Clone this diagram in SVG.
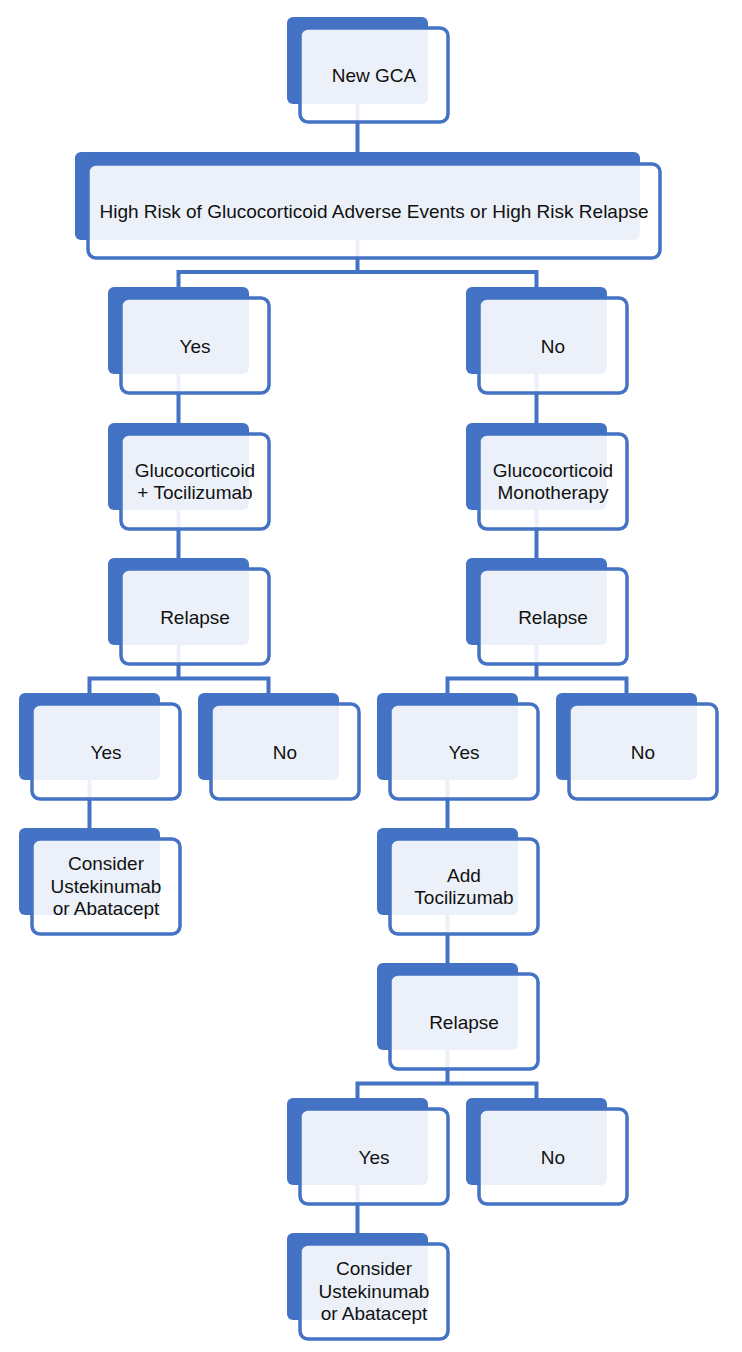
<svg xmlns="http://www.w3.org/2000/svg" width="742" height="1352" viewBox="0 0 742 1352">
<style>
.bk{fill:#4472C4}
.fr{fill:#ffffff;fill-opacity:0.9;stroke:#4472C4;stroke-width:3.5}
.cn{fill:none;stroke:#4472C4;stroke-width:4}
text{font-family:"Liberation Sans",Arial,sans-serif;font-size:19px;fill:#111;text-anchor:middle}
</style>
<rect width="742" height="1352" fill="#ffffff"/>
<g id="connectors">
<path class="cn" d="M357.5 80V152"/>
<path class="cn" d="M357.5 220V272M178.5 287V272H536.5V287"/>
<path class="cn" d="M178.5 350V423M536.5 350V423"/>
<path class="cn" d="M178.5 486V558M536.5 486V558"/>
<path class="cn" d="M178.5 620V678.5M89.5 693V678.5H268.5V693"/>
<path class="cn" d="M536.5 620V678.5M447.5 693V678.5H626.5V693"/>
<path class="cn" d="M89.5 755V828M447.5 755V828"/>
<path class="cn" d="M447.5 890V963"/>
<path class="cn" d="M447.5 1025V1083.5M357.5 1098V1083.5H536.5V1098"/>
<path class="cn" d="M357.5 1160V1233"/>
</g>
<g id="n_newgca"><rect class="bk" x="287" y="17" width="141" height="87" rx="6"/><rect class="fr" x="300" y="28" width="148" height="94" rx="8"/><text x="374" y="82">New GCA</text></g>
<g id="n_highrisk"><rect class="bk" x="75" y="152" width="565" height="88" rx="6"/><rect class="fr" x="88" y="164" width="572" height="94" rx="8"/><text x="374" y="218">High Risk of Glucocorticoid Adverse Events or High Risk Relapse</text></g>
<g id="n_yes1"><rect class="bk" x="108" y="287" width="141" height="87" rx="6"/><rect class="fr" x="121" y="298" width="148" height="95" rx="8"/><text x="195" y="352.5">Yes</text></g>
<g id="n_no1"><rect class="bk" x="466" y="287" width="141" height="87" rx="6"/><rect class="fr" x="479" y="298" width="148" height="95" rx="8"/><text x="553" y="352.5">No</text></g>
<g id="n_gctoci"><rect class="bk" x="108" y="423" width="141" height="87" rx="6"/><rect class="fr" x="121" y="434" width="148" height="95" rx="8"/><text x="195" y="476.5">Glucocorticoid</text><text x="195" y="499">+ Tocilizumab</text></g>
<g id="n_gcmono"><rect class="bk" x="466" y="423" width="141" height="87" rx="6"/><rect class="fr" x="479" y="434" width="148" height="95" rx="8"/><text x="553" y="476.5">Glucocorticoid</text><text x="553" y="499">Monotherapy</text></g>
<g id="n_relapse_l"><rect class="bk" x="108" y="558" width="141" height="87" rx="6"/><rect class="fr" x="121" y="569" width="148" height="95" rx="8"/><text x="195" y="623.5">Relapse</text></g>
<g id="n_relapse_r"><rect class="bk" x="466" y="558" width="141" height="87" rx="6"/><rect class="fr" x="479" y="569" width="148" height="95" rx="8"/><text x="553" y="623.5">Relapse</text></g>
<g id="n_yes_a"><rect class="bk" x="19" y="693" width="141" height="87" rx="6"/><rect class="fr" x="32" y="704" width="148" height="95" rx="8"/><text x="106" y="758.5">Yes</text></g>
<g id="n_no_c"><rect class="bk" x="198" y="693" width="141" height="87" rx="6"/><rect class="fr" x="211" y="704" width="148" height="95" rx="8"/><text x="285" y="758.5">No</text></g>
<g id="n_yes_e"><rect class="bk" x="377" y="693" width="141" height="87" rx="6"/><rect class="fr" x="390" y="704" width="148" height="95" rx="8"/><text x="464" y="758.5">Yes</text></g>
<g id="n_no_g"><rect class="bk" x="556" y="693" width="141" height="87" rx="6"/><rect class="fr" x="569" y="704" width="148" height="95" rx="8"/><text x="643" y="758.5">No</text></g>
<g id="n_consider_a"><rect class="bk" x="19" y="828" width="141" height="87" rx="6"/><rect class="fr" x="32" y="839" width="148" height="95" rx="8"/><text x="106" y="870">Consider</text><text x="106" y="892.5">Ustekinumab</text><text x="106" y="915">or Abatacept</text></g>
<g id="n_addtoci"><rect class="bk" x="377" y="828" width="141" height="87" rx="6"/><rect class="fr" x="390" y="839" width="148" height="95" rx="8"/><text x="464" y="881.5">Add</text><text x="464" y="904">Tocilizumab</text></g>
<g id="n_relapse_e"><rect class="bk" x="377" y="963" width="141" height="87" rx="6"/><rect class="fr" x="390" y="974" width="148" height="95" rx="8"/><text x="464" y="1028.5">Relapse</text></g>
<g id="n_yes_d"><rect class="bk" x="287" y="1098" width="141" height="87" rx="6"/><rect class="fr" x="300" y="1109" width="148" height="95" rx="8"/><text x="374" y="1163.5">Yes</text></g>
<g id="n_no_f"><rect class="bk" x="466" y="1098" width="141" height="87" rx="6"/><rect class="fr" x="479" y="1109" width="148" height="95" rx="8"/><text x="553" y="1163.5">No</text></g>
<g id="n_consider_d"><rect class="bk" x="287" y="1233" width="141" height="87" rx="6"/><rect class="fr" x="300" y="1244" width="148" height="95" rx="8"/><text x="374" y="1275">Consider</text><text x="374" y="1297.5">Ustekinumab</text><text x="374" y="1320">or Abatacept</text></g>
</svg>
